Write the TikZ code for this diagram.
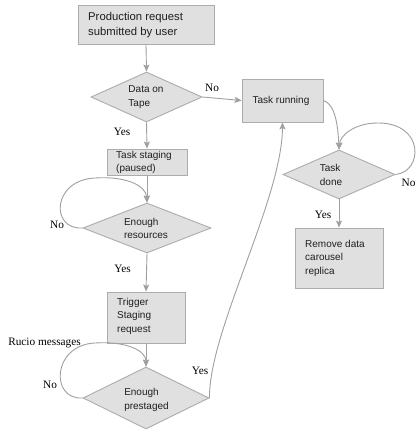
\documentclass[tikz,border=0pt]{standalone}
\usepackage{fontspec}
\setmainfont{Liberation Sans}
\newfontfamily\lblfont{Liberation Serif}
\usetikzlibrary{shapes.geometric,arrows.meta}
\definecolor{boxfill}{RGB}{224,224,224}
\definecolor{boxline}{RGB}{172,172,172}
\definecolor{arrowc}{RGB}{160,160,160}
\begin{document}
\begin{tikzpicture}[x=1pt,y=-1pt,
 box/.style={rectangle, draw=boxline, fill=boxfill, line width=0.9pt, inner sep=0pt},
 dia/.style={diamond, draw=boxline, fill=boxfill, line width=0.9pt, inner sep=0pt},
 txt/.style={align=left, font=\fontsize{10}{13.5}\selectfont, text=black!88, inner sep=0pt},
 bigtxt/.style={align=left, font=\fontsize{11.3}{15}\selectfont, text=black!88, inner sep=0pt},
 lbl/.style={font=\lblfont\fontsize{11.3}{13}\selectfont, inner sep=0pt},
 arr/.style={draw=arrowc, line width=0.9pt, -{Stealth[length=7pt,width=6pt,inset=1.5pt]}},
]
\useasboundingbox (0,0) rectangle (416,433);
\fill[white] (0,0) rectangle (416,433);

% boxes
\node[box, minimum width=136pt, minimum height=39pt] (b1) at (146,24.5) {};
\node[bigtxt, anchor=west] (b1t) at (88,25.5) {Production request\\submitted by user};

\node[box, minimum width=81pt, minimum height=43pt] (tr) at (282.5,100.5) {};
\node[txt] (trt) at (281,100.5) {Task running};

\node[box, minimum width=80pt, minimum height=26pt] (ts) at (147,162) {};
\node[txt, anchor=west] (tst) at (116,162.5) {Task staging\\(paused)};

\node[box, minimum width=78pt, minimum height=51pt] (tg) at (146,317.5) {};
\node[txt, anchor=west] (tgt) at (117,316) {Trigger\\Staging\\request};

\node[box, minimum width=88pt, minimum height=60pt] (rm) at (339,258) {};
\node[txt, anchor=west] (rmt) at (305,258) {Remove data\\carousel\\replica};

% diamonds
\node[dia, minimum width=111pt, minimum height=50pt] (d1) at (146.5,97) {};
\node[txt] (d1t) at (146,97) {Data on\\Tape};

\node[dia, minimum width=128pt, minimum height=50pt] (d2) at (147,228) {};
\node[txt] (d2t) at (146,228.5) {Enough\\resources};

\node[dia, minimum width=126pt, minimum height=62pt] (d3) at (146,398) {};
\node[txt] (d3t) at (146.5,400) {Enough\\prestaged};

\node[dia, minimum width=112pt, minimum height=49pt] (d4) at (339,174.5) {};
\node[txt] (d4t) at (331,175) {Task\\done};

% connectors
\draw[arr] (b1.south) -- (d1.north);
\draw[arr] (d1.east) -- (tr.west);
\draw[arr] (d1.south) -- (ts.north);
\draw[arr] (ts.south) -- (d2.north);
\draw[arr] (d2.west) .. controls (50,230) and (52,180) .. (95,178)
                     .. controls (125,176) and (146,185) .. (d2.north);
\draw[arr] (d2.south) -- (tg.north);
\draw[arr] (tg.south) -- (d3.north);
\draw[arr] (d3.west) .. controls (50,400) and (52,345) .. (95,343)
                     .. controls (125,341) and (146,350) .. (d3.north);
\draw[arr] (d3.east) .. controls (209,330) and (282,200) .. (tr.south);
\draw[arr] (tr.east) .. controls (335,104) and (338,125) .. (d4.north);
\draw[arr] (d4.east) .. controls (423,172) and (425,123) .. (378,123)
                     .. controls (355,123) and (340,135) .. (d4.north);
\draw[arr] (d4.south) -- (rm.north);

% labels
\node[lbl] (l1) at (212,88) {No};
\node[lbl] (l2) at (122,132) {Yes};
\node[lbl] (l3) at (57,225) {No};
\node[lbl] (l4) at (122.5,269) {Yes};
\node[lbl] (l5) at (44.5,343) {Rucio messages};
\node[lbl] (l6) at (50,385) {No};
\node[lbl] (l7) at (200,371) {Yes};
\node[lbl] (l8) at (323,215) {Yes};
\node[lbl] (l9) at (408.5,183) {No};
\end{tikzpicture}
\end{document}
